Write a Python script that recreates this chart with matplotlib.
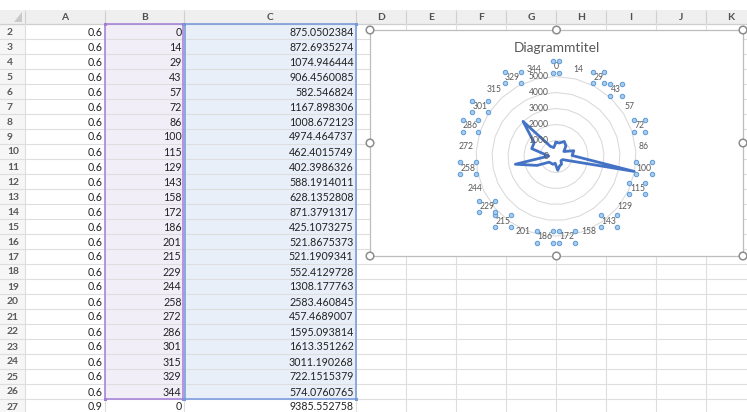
import numpy as np
import matplotlib
matplotlib.use("Agg")
import matplotlib.pyplot as plt
from matplotlib.patches import Rectangle, Circle, Polygon
from matplotlib.transforms import offset_copy

plt.rcParams['font.family'] = ['Lato', 'DejaVu Sans']

# ---- worksheet contents (rows 2..27) ----
row_numbers = list(range(2, 28))
col_a = [0.6] * 25 + [0.9]
col_b = [0, 14, 29, 43, 57, 72, 86, 100, 115, 129, 143, 158, 172, 186,
         201, 215, 229, 244, 258, 272, 286, 301, 315, 329, 344, 0]
col_c = [875.0502384, 872.6935274, 1074.946444, 906.4560085, 582.546824,
         1167.898306, 1008.672123, 4974.464737, 462.4015749, 402.3986326,
         588.1914011, 628.1352808, 871.3791317, 425.1073275, 521.8675373,
         521.1909341, 552.4129728, 1308.177763, 2583.460845, 457.4689007,
         1595.093814, 1613.351262, 3011.190268, 722.1515379, 574.0760765,
         9385.552758]
column_letters = ['A', 'B', 'C', 'D', 'E', 'F', 'G', 'H', 'I', 'J', 'K']

# chart series: categories = B2:B26, values = C2:C26
categories = col_b[:25]
series = col_c[:25]
radial_ticks = [0, 1000, 2000, 3000, 4000, 5000]
chart_title = 'Diagrammtitel'
# category labels that currently show selection handles
handled_labels = [0, 2, 3, 5, 7, 8, 10, 12, 13, 15, 16, 18, 20, 21, 23]

W, H = 747, 412
fig = plt.figure(figsize=(W / 100, H / 100), dpi=100)
fig.patch.set_facecolor('white')

bg = fig.add_axes([0, 0, 1, 1])
bg.set_xlim(0, W)
bg.set_ylim(H, 0)
bg.axis('off')

# column edges in pixels
col_edges = [0, 25, 105, 184, 356, 406, 456, 506, 556, 606, 656, 706, 756]
hdr_top, hdr_bot = 10, 24
row_h = 15
grid_c = '#DEDEDE'
txt_c = '#222222'
fs_cell = 7.7

# column header band
bg.add_patch(Rectangle((0, hdr_top), W, hdr_bot - hdr_top, facecolor='#EFEFEF',
                       edgecolor='none', zorder=1))
# row header band
bg.add_patch(Rectangle((0, hdr_bot), col_edges[1], H - hdr_bot, facecolor='#F6F6F6',
                       edgecolor='none', zorder=1))
# corner triangle
bg.add_patch(Polygon([(14, 22), (22, 22), (22, 12)], closed=True,
                     facecolor='#C9C9C9', edgecolor='none', zorder=2))

# selected ranges (categories purple, values blue)
n_sel = 25
sel_top = hdr_bot
sel_bot = hdr_bot + n_sel * row_h
bg.add_patch(Rectangle((col_edges[2], sel_top), col_edges[3] - col_edges[2] - 0.5,
                       sel_bot - sel_top, facecolor='#F2EEF8', edgecolor='none', zorder=1))
bg.add_patch(Rectangle((col_edges[3] + 0.5, sel_top), col_edges[4] - col_edges[3] - 0.5,
                       sel_bot - sel_top, facecolor='#E9EFF9', edgecolor='none', zorder=1))

# gridlines
for i in range(len(row_numbers) + 1):
    y = hdr_bot + i * row_h
    bg.plot([0, W], [y, y], color=grid_c, lw=0.8, zorder=2)
bg.plot([0, W], [hdr_bot, hdr_bot], color='#CFCFCF', lw=0.9, zorder=2)
for x in col_edges[1:]:
    bg.plot([x, x], [hdr_top, H], color=grid_c, lw=0.8, zorder=2)
    bg.plot([x, x], [hdr_top + 2, hdr_bot - 2], color='#CFCFCF', lw=0.8, zorder=2)

# range borders
bg.add_patch(Rectangle((col_edges[2], sel_top), col_edges[3] - col_edges[2] - 0.8,
                       sel_bot - sel_top, facecolor='none', edgecolor='#A27ED8',
                       lw=1.1, zorder=3))
bg.add_patch(Rectangle((col_edges[3] + 0.8, sel_top), col_edges[4] - col_edges[3] - 0.8,
                       sel_bot - sel_top, facecolor='none', edgecolor='#7398DC',
                       lw=1.1, zorder=3))
for (x, c) in [(col_edges[2], '#A27ED8'), (col_edges[3] - 0.8, '#A27ED8'),
               (col_edges[3] + 0.8, '#7398DC'), (col_edges[4], '#7398DC')]:
    for y in (sel_top, sel_bot):
        bg.add_patch(Rectangle((x - 1.5, y - 1.5), 3, 3, facecolor=c,
                               edgecolor='none', zorder=4))

# header letters
for j, letter in enumerate(column_letters):
    xc = (col_edges[j + 1] + col_edges[j + 2]) / 2
    bg.text(xc, (hdr_top + hdr_bot) / 2 + 0.5, letter, ha='center', va='center',
            fontsize=7.4, fontweight='bold', color='#505050', zorder=5)

# cell values
for i, rn in enumerate(row_numbers):
    yc = hdr_bot + i * row_h + row_h / 2 + 0.5
    bg.text(7, yc, str(rn), ha='left', va='center', fontsize=7.4,
            fontweight='bold', color='#5A5A5A', zorder=5)
    bg.text(col_edges[2] - 2.5, yc, str(col_a[i]), ha='right', va='center',
            fontsize=fs_cell, color=txt_c, zorder=5)
    bg.text(col_edges[3] - 2.5, yc, str(col_b[i]), ha='right', va='center',
            fontsize=fs_cell, color=txt_c, zorder=5)
    bg.text(col_edges[4] - 2.5, yc, str(col_c[i]), ha='right', va='center',
            fontsize=fs_cell, color=txt_c, zorder=5)

# ---- embedded chart ----
cl, ct, cr, cb = 370, 30, 743, 256
bg.add_patch(Rectangle((cl, ct), cr - cl, cb - ct, facecolor='white',
                       edgecolor='#BDBDBD', lw=0.9, zorder=10))
cmx, cmy = (cl + cr) / 2, (ct + cb) / 2
for (hx, hy) in [(cl, ct), (cmx, ct), (cr, ct), (cl, cmy), (cr, cmy),
                 (cl, cb), (cmx, cb), (cr, cb)]:
    bg.add_patch(Circle((hx, hy), 3.8, facecolor='white', edgecolor='#8C8C8C',
                        lw=1.1, zorder=11))
bg.text(cmx, 47.5, chart_title, ha='center', va='center', fontsize=9.9,
        color='#595959', zorder=12)

cx, cy, R = 556, 156.5, 80
ax = fig.add_axes([(cx - R) / W, (H - cy - R) / H, 2 * R / W, 2 * R / H],
                  projection='polar')
ax.set_theta_zero_location('N')
ax.set_theta_direction(-1)
ax.set_ylim(0, radial_ticks[-1])
ax.set_xticks([])
ax.set_yticks([])
ax.grid(False)
ax.spines['polar'].set_visible(False)
ax.patch.set_visible(False)

n = len(categories)
theta = np.deg2rad(np.arange(n) * 360.0 / n)
theta_closed = np.append(theta, theta[0])

# polygon gridlines
for lev in radial_ticks[1:]:
    ax.plot(theta_closed, [lev] * (n + 1), color='#D9D9D9', lw=0.75, zorder=1,
            clip_on=False)

# data series
vals = np.array(series, dtype=float)
ax.plot(theta_closed, np.append(vals, vals[0]), color='#4472C4', lw=2.0,
        zorder=3, clip_on=False)

lab_fs = 6.2
lab_c = '#595959'

# value axis labels
for lev in radial_ticks:
    ax.text(0, lev, str(lev), transform=offset_copy(ax.transData, fig=fig, x=-7.5, y=0,
                                                    units='dots'),
            ha='right', va='center', fontsize=lab_fs, color=lab_c, clip_on=False,
            zorder=4)

# category labels around the outer ring
rmax = radial_ticks[-1]
for i, cat in enumerate(categories):
    lab = str(cat)
    hw = 2.3 * len(lab)
    th = theta[i]
    dx = np.sin(th) * (3 + hw)
    dy = np.cos(th) * 5.35 + 4.35
    ax.text(th, rmax, lab, transform=offset_copy(ax.transData, fig=fig, x=dx, y=dy,
                                                 units='dots'),
            ha='center', va='center', fontsize=lab_fs, color=lab_c, clip_on=False,
            zorder=4)
    if i in handled_labels:
        bw = hw + 1.0
        bh = 5.8
        for sx in (-1, 1):
            for sy in (-1, 1):
                ax.plot([th], [rmax], 'o', ms=3.2, mfc='#A9CBEF', mec='#5B9BD5',
                        mew=0.7, clip_on=False, zorder=5,
                        transform=offset_copy(ax.transData, fig=fig, x=dx + sx * bw,
                                              y=dy + sy * bh, units='dots'))

fig.savefig('out.png', dpi=100, facecolor='white')
